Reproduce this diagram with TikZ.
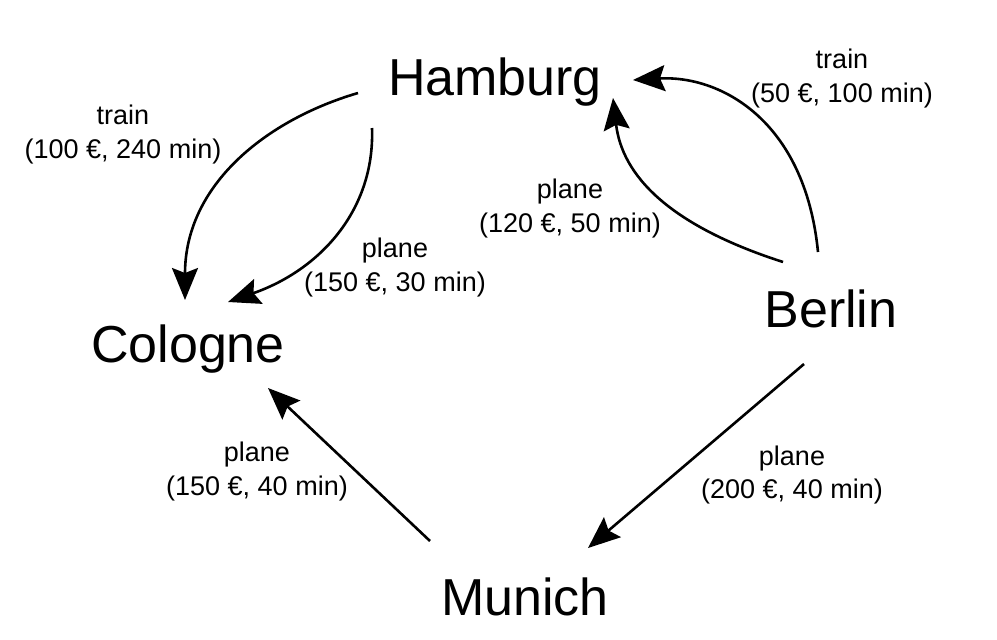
\documentclass[tikz,border=0pt]{standalone}
\usepackage{fontspec}
\setmainfont{Liberation Sans}
\usetikzlibrary{arrows.meta}
\tikzstyle{city}=[anchor=base,inner sep=0pt,
                  font=\fontsize{26}{30}\selectfont]
\tikzstyle{cost}=[align=center,inner sep=0pt,
                  font=\fontsize{13.5}{17}\selectfont]
\tikzstyle{route}=[line width=1.3pt,
                   -{Stealth[length=16pt,width=13pt,inset=2.5pt]}]

\begin{document}
\begin{tikzpicture}[x=0.5pt,y=-0.5pt]
    \useasboundingbox (0,0) rectangle (997,639);
    % cities (placed at their baselines)
    \node (ham) at (495,95)  [city]{Hamburg};
    \node (col) at (188,362) [city]{Cologne};
    \node (ber) at (831,327) [city]{Berlin};
    \node (mun) at (525,615) [city]{Munich};
    % costs
    \node (l1) at (123,135) [cost]{train\\(100 €, 240 min)};
    \node (l2) at (395,268) [cost]{plane\\(150 €, 30 min)};
    \node (l3) at (570,209) [cost]{plane\\(120 €, 50 min)};
    \node (l4) at (842,79)  [cost]{train\\(50 €, 100 min)};
    \node (l5) at (257,472) [cost]{plane\\(150 €, 40 min)};
    \node (l6) at (792,475) [cost]{plane\\(200 €, 40 min)};
    % routes
    \draw[route] ([shift={(-137,-2)}]ham.base)
        .. controls +(-92,27) and +(0,-115) .. ([shift={(-3,-62)}]col.base);
    \draw[route] ([shift={(-123,33)}]ham.base)
        .. controls +(3,82) and +(92,-32) .. ([shift={(40,-60)}]col.base);
    \draw[route] ([shift={(-48,-65)}]ber.base)
        .. controls +(-115,-37) and +(9,77) .. ([shift={(118,3)}]ham.base);
    \draw[route] ([shift={(-13,-75)}]ber.base)
        .. controls +(-13,-132) and +(87,-5) .. ([shift={(138,-15)}]ham.base);
    \draw[route] ([shift={(-95,-74)}]mun.base) -- ([shift={(80,26)}]col.base);
    \draw[route] ([shift={(-27,37)}]ber.base) -- ([shift={(63,-67)}]mun.base);
  \end{tikzpicture}
\end{document}
